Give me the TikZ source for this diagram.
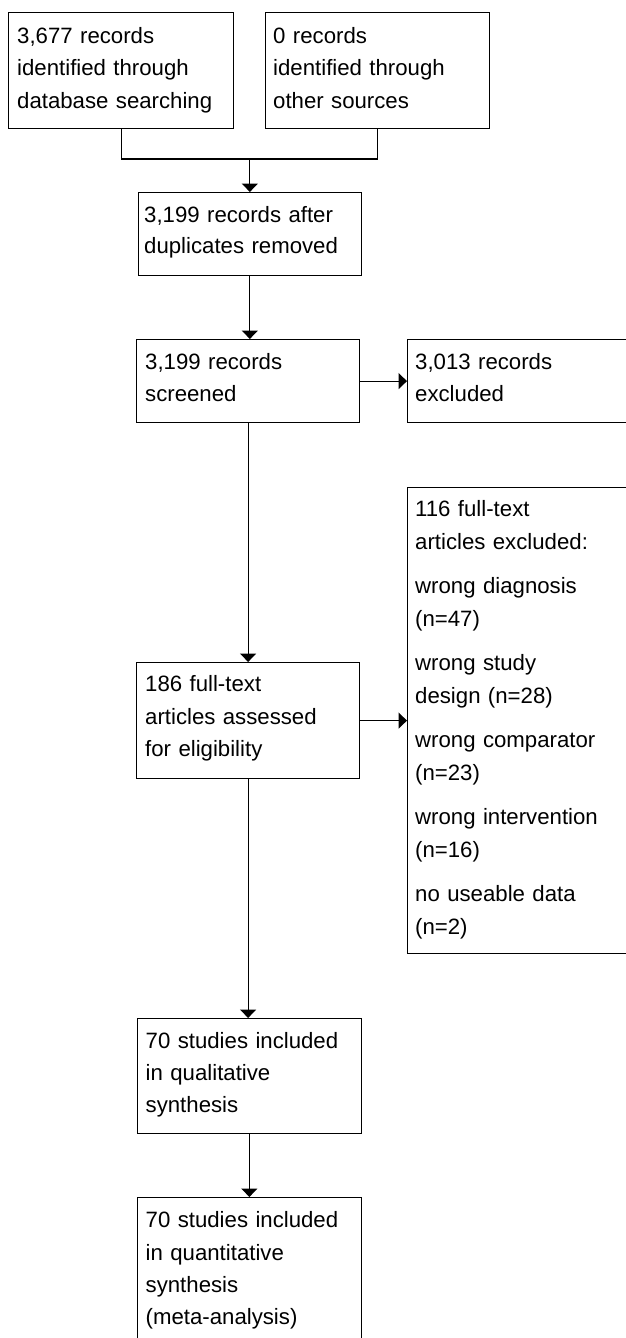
\documentclass[tikz,border=0pt]{standalone}
\usepackage{fontspec}
\setmainfont{Liberation Sans}
\usetikzlibrary{arrows.meta}
\begin{document}
\begin{tikzpicture}[x=1pt,y=-1pt,
  box/.style={draw, line width=1.2pt, anchor=north west, inner sep=0pt},
  txt/.style={anchor=base west, inner sep=0pt, text width=250pt, align=left,
              font=\fontsize{22.2}{32.3}\selectfont},
  line/.style={draw, line width=1.2pt},
  arr/.style={line, -{Triangle[length=8.5pt,width=16pt]}}]
\clip (0,0) rectangle (626,1338);
% boxes
\node[box, minimum width=225pt, minimum height=116pt] (b1) at (8,12) {};
\node[box, minimum width=224pt, minimum height=116pt] (b2) at (265,12) {};
\node[box, minimum width=223.5pt, minimum height=82.5pt] (b3) at (137.5,192) {};
\node[box, minimum width=223pt, minimum height=83pt] (b4) at (136,339) {};
\node[box, minimum width=260pt, minimum height=83pt] (b5) at (407,339) {};
\node[box, minimum width=260pt, minimum height=466pt] (b6) at (407,487) {};
\node[box, minimum width=223pt, minimum height=116pt] (b7) at (136,662) {};
\node[box, minimum width=224.5pt, minimum height=115pt] (b8) at (136.5,1018) {};
\node[box, minimum width=224.5pt, minimum height=200pt] (b9) at (136.5,1197) {};
% texts
\node[txt, font=\fontsize{22.2}{32.5}\selectfont] (t1) at (17,43.3) {3,677 records\\identified through\\database searching};
\node[txt, font=\fontsize{22.2}{32.5}\selectfont] (t2) at (273,43.3) {0 records\\identified through\\other sources};
\node[txt, font=\fontsize{22.2}{31}\selectfont] (t3) at (144,222.3) {3,199 records after\\duplicates removed};
\node[txt] (t4) at (145,369.5) {3,199 records\\screened};
\node[txt] (t5) at (415,369.5) {3,013 records\\excluded};
\node[txt] (t6) at (415,516.7) {116 full-text\\articles excluded:\\[12.4pt]wrong diagnosis\\(n=47)\\[12.4pt]wrong study\\design (n=28)\\[12.4pt]wrong comparator\\(n=23)\\[12.4pt]wrong intervention\\(n=16)\\[12.4pt]no useable data\\(n=2)};
\node[txt] (t7) at (145,691.7) {186 full-text\\articles assessed\\for eligibility};
\node[txt] (t8) at (145.5,1048.3) {70 studies included\\in qualitative\\synthesis};
\node[txt] (t9) at (145.5,1227.7) {70 studies included\\in quantitative\\synthesis\\(meta-analysis)};
% connectors
\coordinate (jy) at (0,159);
\coordinate (j) at (b3.north |- jy);
\draw[line] (b1.south) -- (b1.south |- jy) -- (b2.south |- jy) -- (b2.south);
\draw[arr] (j) -- (b3.north);
\draw[arr] (b3.south) -- (b3.south |- b4.north);
\draw[arr] (b4.east) -- (b5.west);
\draw[arr] (b4.south) -- (b7.north);
\draw[arr] (b7.east) -- (b7.east -| b6.west);
\draw[arr] (b7.south) -- (b7.south |- b8.north);
\draw[arr] (b8.south) -- (b9.north);
\end{tikzpicture}
\end{document}
